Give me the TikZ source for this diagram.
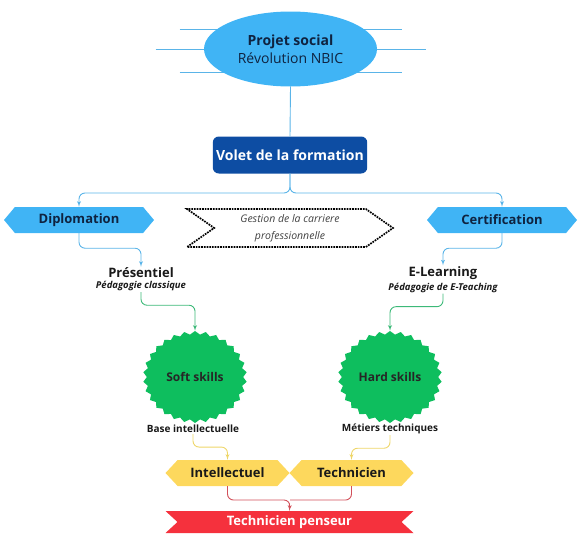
\documentclass[tikz,border=0pt]{standalone}
\usepackage{fontspec}
\setmainfont{Open Sans}
\usetikzlibrary{shapes.geometric,shapes.symbols,arrows,positioning,calc}
\definecolor{skyblue}{RGB}{64,180,245}
\definecolor{voletblue}{RGB}{13,77,163}
\definecolor{navytext}{RGB}{15,35,64}
\definecolor{linkblue}{RGB}{90,180,232}
\definecolor{skillgreen}{RGB}{14,190,94}
\definecolor{linkgreen}{RGB}{60,185,120}
\definecolor{mellow}{RGB}{253,216,93}
\definecolor{linkyellow}{RGB}{238,214,105}
\definecolor{ribbonred}{RGB}{245,49,61}
\definecolor{linkred}{RGB}{210,80,90}
\tikzset{
bubble/.style = {ellipse, fill=skyblue, minimum width=173pt, minimum height=75pt, align=center, text=navytext, font=\fontsize{14}{18}\selectfont},
voletbox/.style = {rectangle, rounded corners=6pt, fill=voletblue, minimum width=154pt, minimum height=37pt, text=white, font=\bfseries\fontsize{14}{17}\selectfont},
hexblue/.style = {signal, signal to=west and east, signal pointer angle=100, fill=skyblue, minimum width=150pt, minimum height=26pt, inner sep=0pt, text=navytext, font=\bfseries\fontsize{13}{15}\selectfont},
carriere/.style = {signal, signal from=west, signal to=east, signal pointer angle=70, draw, densely dotted, line width=1.7pt, minimum width=206pt, minimum height=38pt, align=center, text=black!75, font=\itshape\fontsize{10.5}{17}\selectfont},
modetitle/.style = {inner sep=1pt, text=black!90, font=\bfseries\fontsize{13}{15}\selectfont},
modesub/.style = {inner sep=1pt, text=black!90, font=\bfseries\itshape\fontsize{9.5}{11}\selectfont},
skill/.style = {star, star points=30, star point ratio=1.08, fill=skillgreen, minimum size=92pt, inner sep=0pt, transform shape},
skilltext/.style = {text=black!85, font=\bfseries\fontsize{12}{14}\selectfont},
basetext/.style = {inner sep=1pt, text=black!90, font=\bfseries\fontsize{10}{12}\selectfont},
hexyellow/.style = {signal, signal to=west and east, signal pointer angle=94, fill=mellow, minimum width=124pt, minimum height=26pt, inner sep=0pt, text=black!90, font=\bfseries\fontsize{13}{15}\selectfont},
ribbon/.style = {signal, signal to=nowhere, signal from=west and east, signal pointer angle=85, fill=ribbonred, minimum width=248pt, minimum height=22pt, inner sep=0pt, text=white, font=\bfseries\fontsize{13}{15}\selectfont},
rayline/.style = {draw=linkblue, line width=0.9pt},
blueline/.style = {draw=linkblue, line width=0.9pt, rounded corners=6pt},
greenline/.style = {draw=linkgreen, line width=0.9pt, rounded corners=6pt},
yellowline/.style = {draw=linkyellow, line width=0.9pt, rounded corners=6pt},
redline/.style = {draw=linkred, line width=0.9pt, rounded corners=6pt}
}
\begin{document}
\begin{tikzpicture}[x=1pt, y=-1pt, >=latex']
\useasboundingbox (0,0) rectangle (580,555);
% rays behind the project bubble
\foreach \yy/\dx [count=\i] in {29/111, 49/135, 72/111} {
  \coordinate (rayw\i) at (290.5-\dx,\yy);
  \coordinate (raye\i) at (290.5+\dx,\yy);
  \draw[rayline] (rayw\i) -- (raye\i);
}
\node[bubble] (projet) at (290.5,49) {\textbf{Projet social}\\Révolution NBIC};
\node[voletbox] (volet) at (290,155) {Volet de la formation};
\node[hexblue] (dipl) at (79,220) {Diplomation};
\node[hexblue] (certif) at (502,220) {Certification};
\node[carriere] (gestion) at (290,228) {Gestion de la carriere\\professionnelle};
\node[modetitle] (pres) at (141,273) {Présentiel};
\node[modesub, below=1pt of pres] (pedclass) {Pédagogie classique};
\node[modetitle] (elearn) at (443,273) {E-Learning};
\node[modesub, below=1pt of elearn] (pedetech) {Pédagogie de E-Teaching};
% skill stars, a bit wider than tall
\begin{scope}[shift={(195,377)}, xscale=1.13]
  \node[skill] (softstar) {};
\end{scope}
\begin{scope}[shift={(390,377)}, xscale=1.13]
  \node[skill] (hardstar) {};
\end{scope}
\node[skilltext] (soft) at (195,377) {Soft skills};
\node[skilltext] (hard) at (390,377) {Hard skills};
\node[basetext] (baseint) at (193,429) {Base intellectuelle};
\node[basetext] (metiers) at (390,429) {Métiers techniques};
\node[hexyellow] (intel) at (227.5,473) {Intellectuel};
\node[hexyellow] (tech) at (351.5,473) {Technicien};
\node[ribbon] (penseur) at (289.5,522) {Technicien penseur};
\coordinate (split) at (290,193);
\coordinate (merge) at (290,500);
\draw[blueline] (projet.south) -- (volet.north);
\draw[blueline,->] (volet.south) -- (split) -| (dipl.north);
\draw[blueline,->] (volet.south) -- (split) -| (certif.north);
\draw[blueline,->] (dipl.south) -- ++(0,15) -| (pres.north);
\draw[blueline,->] (certif.south) -- ++(0,15) -| (elearn.north);
\draw[greenline,->] (pedclass.south) -- ++(0,13) -| (softstar.north);
\draw[greenline,->] (pedetech.south) -- ++(0,13) -| (hardstar.north);
\draw[yellowline,->] (baseint.south) -- ++(0,13) -| (intel.north);
\draw[yellowline,->] (metiers.south) -- ++(0,13) -| (tech.north);
\draw[redline,->] (intel.south) |- (merge) -- (penseur.north);
\draw[redline] (tech.south) |- (merge);
\end{tikzpicture}
\end{document}
